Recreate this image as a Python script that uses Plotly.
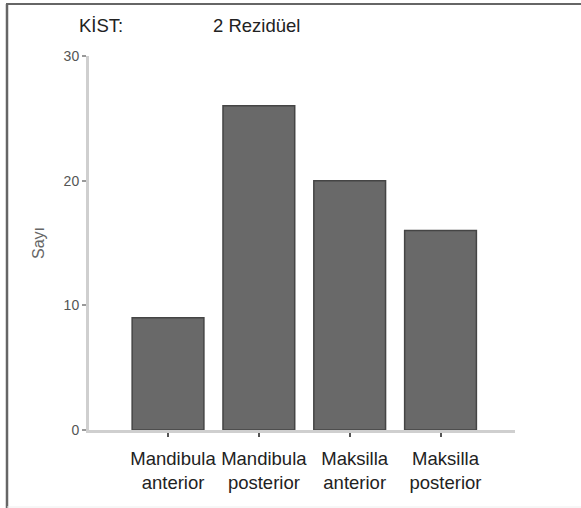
import plotly.graph_objects as go

categories = ["Mandibula anterior", "Mandibula posterior", "Maksilla anterior", "Maksilla posterior"]
tick_labels = ["Mandibula<br>anterior", "Mandibula<br>posterior", "Maksilla<br>anterior", "Maksilla<br>posterior"]
counts = [9, 26, 20, 16]
y_ticks = [0, 10, 20, 30]
title_left = "KİST:"
title_right = "2 Rezidüel"
y_title = "Sayı"

W, H = 581, 508
L, R, T, B = 89, 66, 56, 78

fig = go.Figure(go.Bar(
    x=list(range(len(categories))),
    y=counts,
    marker=dict(color="#696969", line=dict(color="#454545", width=1.5)),
    hovertext=categories,
))

fig.update_layout(
    width=W, height=H,
    margin=dict(l=L, r=R, t=T, b=B, pad=0, autoexpand=False),
    paper_bgcolor="white", plot_bgcolor="white",
    bargap=0.21,
    showlegend=False,
    font=dict(family="Liberation Sans, Arial, sans-serif", color="#222"),
)

fig.update_xaxes(
    range=[-0.87, 3.82], automargin=False,
    tickmode="array", tickvals=list(range(len(categories))), ticktext=tick_labels,
    tickfont=dict(size=18.5, color="#222"),
    ticks="outside", ticklen=4, tickwidth=1.5, tickcolor="#555",
    ticklabelshift=5, ticklabelstandoff=6,
    showline=True, linecolor="#cfcfcf", linewidth=3,
    showgrid=False, zeroline=False,
)
fig.update_yaxes(
    range=[0, 30], automargin=False,
    tickmode="array", tickvals=y_ticks,
    tickfont=dict(size=14, color="#555"),
    ticks="outside", ticklen=4, tickwidth=1.5, tickcolor="#999",
    showline=True, linecolor="#cfcfcf", linewidth=3,
    showgrid=False, zeroline=False,
    title=dict(text=y_title, font=dict(size=16, color="#666"), standoff=16),
)

pw = W - L - R
ph = H - T - B
def px_x(px):
    return (px - L) / pw
def px_y(py):
    return (H - B - py) / ph

fig.add_annotation(text=title_left, xref="paper", yref="paper", x=px_x(77), y=px_y(26),
                   xanchor="left", yanchor="middle", showarrow=False, font=dict(size=18.5, color="#222"))
fig.add_annotation(text=title_right, xref="paper", yref="paper", x=px_x(211), y=px_y(26),
                   xanchor="left", yanchor="middle", showarrow=False, font=dict(size=18.5, color="#222"))

# frame lines
fig.add_shape(type="line", xref="paper", yref="paper", x0=px_x(6), x1=px_x(581), y0=px_y(4), y1=px_y(4),
              line=dict(color="#666", width=2))
fig.add_shape(type="line", xref="paper", yref="paper", x0=px_x(7), x1=px_x(7), y0=px_y(4), y1=px_y(508),
              line=dict(color="#666", width=2.5))
fig.add_shape(type="line", xref="paper", yref="paper", x0=px_x(7), x1=px_x(581), y0=px_y(507), y1=px_y(507),
              line=dict(color="#eee", width=1))

fig.write_html("out.html", config={"displayModeBar": False},
               post_script="document.body.style.margin='0';document.body.style.overflow='hidden';")
